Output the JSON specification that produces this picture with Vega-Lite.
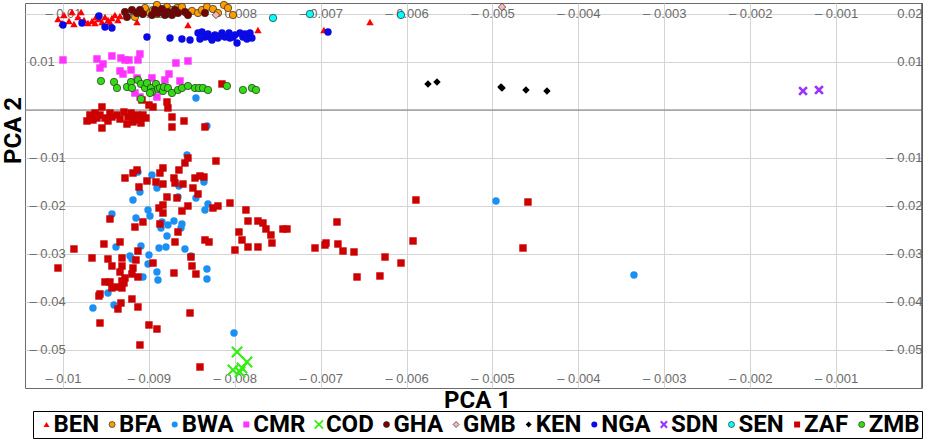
{
  "$schema": "https://vega.github.io/schema/vega-lite/v6.json",
  "width": 897,
  "height": 385,
  "autosize": "none",
  "padding": {"left": 25, "top": 3, "right": 12, "bottom": 52},
  "background": "white",
  "config": {
    "view": {"stroke": "#6b6b6b", "strokeWidth": 1},
    "axis": {
      "domain": false, "ticks": false, "tickSize": 0, "labelFlush": false,
      "labelFont": "Liberation Sans", "labelFontSize": 13, "labelColor": "#6b6b6b",
      "gridColor": "#d4d4d4", "gridWidth": 1,
      "titleFont": "Roboto", "titleFontSize": 24, "titleFontWeight": "bold", "titleColor": "black"
    }
  },
  "data": {"values": [
    {"pop":"BEN","pc1":-0.010058,"pc2":0.01896},{"pop":"BEN","pc1":-0.009988,"pc2":0.01979},{"pop":"BEN","pc1":-0.00993,"pc2":0.01854},
    {"pop":"BEN","pc1":-0.009895,"pc2":0.02042},{"pop":"BEN","pc1":-0.009872,"pc2":0.01792},{"pop":"BEN","pc1":-0.009825,"pc2":0.01938},
    {"pop":"BEN","pc1":-0.00979,"pc2":0.02042},{"pop":"BEN","pc1":-0.009755,"pc2":0.01875},{"pop":"BEN","pc1":-0.009709,"pc2":0.01813},
    {"pop":"BEN","pc1":-0.009662,"pc2":0.01854},{"pop":"BEN","pc1":-0.009627,"pc2":0.01813},{"pop":"BEN","pc1":-0.009581,"pc2":0.01896},
    {"pop":"BEN","pc1":-0.009546,"pc2":0.01833},{"pop":"BEN","pc1":-0.009511,"pc2":0.01938},{"pop":"BEN","pc1":-0.009476,"pc2":0.01875},
    {"pop":"BEN","pc1":-0.00943,"pc2":0.01917},{"pop":"BEN","pc1":-0.009395,"pc2":0.01979},{"pop":"BEN","pc1":-0.00936,"pc2":0.01875},
    {"pop":"BEN","pc1":-0.009336,"pc2":0.01958},{"pop":"BEN","pc1":-0.009138,"pc2":0.01833},{"pop":"BEN","pc1":-0.008545,"pc2":0.01771},
    {"pop":"BEN","pc1":-0.00773,"pc2":0.01667},{"pop":"BEN","pc1":-0.006962,"pc2":0.01667},{"pop":"BEN","pc1":-0.006426,"pc2":0.01833},
    {"pop":"BEN","pc1":-0.010012,"pc2":0.01813},{"pop":"BEN","pc1":-0.009616,"pc2":0.01938},{"pop":"BEN","pc1":-0.009453,"pc2":0.01833},

    {"pop":"BFA","pc1":-0.009162,"pc2":0.01938},{"pop":"BFA","pc1":-0.009138,"pc2":0.02021},{"pop":"BFA","pc1":-0.008987,"pc2":0.02021},
    {"pop":"BFA","pc1":-0.008952,"pc2":0.02083},{"pop":"BFA","pc1":-0.008906,"pc2":0.02},{"pop":"BFA","pc1":-0.008871,"pc2":0.02042},
    {"pop":"BFA","pc1":-0.008906,"pc2":0.02188},{"pop":"BFA","pc1":-0.008789,"pc2":0.02146},{"pop":"BFA","pc1":-0.008731,"pc2":0.02083},
    {"pop":"BFA","pc1":-0.008673,"pc2":0.02125},{"pop":"BFA","pc1":-0.008615,"pc2":0.02146},{"pop":"BFA","pc1":-0.008545,"pc2":0.02021},
    {"pop":"BFA","pc1":-0.008498,"pc2":0.02063},{"pop":"BFA","pc1":-0.008428,"pc2":0.02021},{"pop":"BFA","pc1":-0.008382,"pc2":0.02083},
    {"pop":"BFA","pc1":-0.008324,"pc2":0.02146},{"pop":"BFA","pc1":-0.008254,"pc2":0.02104},{"pop":"BFA","pc1":-0.008196,"pc2":0.02021},
    {"pop":"BFA","pc1":-0.008126,"pc2":0.02188},{"pop":"BFA","pc1":-0.008079,"pc2":0.02125},{"pop":"BFA","pc1":-0.008021,"pc2":0.01979},
    {"pop":"BFA","pc1":-0.009045,"pc2":0.02125},

    {"pop":"BWA","pc1":-0.008452,"pc2":0.0025},{"pop":"BWA","pc1":-0.008324,"pc2":-0.00333},{"pop":"BWA","pc1":-0.008556,"pc2":-0.00938},
    {"pop":"BWA","pc1":-0.008359,"pc2":-0.015},{"pop":"BWA","pc1":-0.009127,"pc2":-0.01292},{"pop":"BWA","pc1":-0.008964,"pc2":-0.01354},
    {"pop":"BWA","pc1":-0.008906,"pc2":-0.01625},{"pop":"BWA","pc1":-0.009104,"pc2":-0.01708},{"pop":"BWA","pc1":-0.009185,"pc2":-0.01875},
    {"pop":"BWA","pc1":-0.00865,"pc2":-0.01583},{"pop":"BWA","pc1":-0.008661,"pc2":-0.01813},{"pop":"BWA","pc1":-0.008452,"pc2":-0.01833},
    {"pop":"BWA","pc1":-0.008312,"pc2":-0.01958},{"pop":"BWA","pc1":-0.008347,"pc2":-0.02083},{"pop":"BWA","pc1":-0.00943,"pc2":-0.02167},
    {"pop":"BWA","pc1":-0.00915,"pc2":-0.0225},{"pop":"BWA","pc1":-0.00901,"pc2":-0.02083},{"pop":"BWA","pc1":-0.008987,"pc2":-0.02208},
    {"pop":"BWA","pc1":-0.008847,"pc2":-0.02333},{"pop":"BWA","pc1":-0.008859,"pc2":-0.02458},{"pop":"BWA","pc1":-0.008778,"pc2":-0.02396},
    {"pop":"BWA","pc1":-0.008708,"pc2":-0.02313},{"pop":"BWA","pc1":-0.008615,"pc2":-0.02375},{"pop":"BWA","pc1":-0.008626,"pc2":-0.02458},
    {"pop":"BWA","pc1":-0.008789,"pc2":-0.02625},{"pop":"BWA","pc1":-0.009383,"pc2":-0.02854},{"pop":"BWA","pc1":-0.009092,"pc2":-0.02833},
    {"pop":"BWA","pc1":-0.008882,"pc2":-0.02875},{"pop":"BWA","pc1":-0.008801,"pc2":-0.02854},{"pop":"BWA","pc1":-0.00858,"pc2":-0.02896},
    {"pop":"BWA","pc1":-0.00851,"pc2":-0.03042},{"pop":"BWA","pc1":-0.00922,"pc2":-0.03042},{"pop":"BWA","pc1":-0.009197,"pc2":-0.03104},
    {"pop":"BWA","pc1":-0.008999,"pc2":-0.03021},{"pop":"BWA","pc1":-0.00901,"pc2":-0.03208},{"pop":"BWA","pc1":-0.009069,"pc2":-0.03479},
    {"pop":"BWA","pc1":-0.008906,"pc2":-0.03375},{"pop":"BWA","pc1":-0.008894,"pc2":-0.03542},{"pop":"BWA","pc1":-0.008324,"pc2":-0.03313},
    {"pop":"BWA","pc1":-0.008324,"pc2":-0.03521},{"pop":"BWA","pc1":-0.009651,"pc2":-0.04125},{"pop":"BWA","pc1":-0.009476,"pc2":-0.03813},
    {"pop":"BWA","pc1":-0.009406,"pc2":-0.04063},{"pop":"BWA","pc1":-0.008009,"pc2":-0.04646},{"pop":"BWA","pc1":-0.004959,"pc2":-0.01896},
    {"pop":"BWA","pc1":-0.003353,"pc2":-0.03438},

    {"pop":"CMR","pc1":-0.01,"pc2":0.01042},{"pop":"CMR","pc1":-0.009604,"pc2":0.01063},{"pop":"CMR","pc1":-0.009534,"pc2":0.00958},
    {"pop":"CMR","pc1":-0.009569,"pc2":0.00875},{"pop":"CMR","pc1":-0.00943,"pc2":0.01125},{"pop":"CMR","pc1":-0.009325,"pc2":0.01083},
    {"pop":"CMR","pc1":-0.009278,"pc2":0.01042},{"pop":"CMR","pc1":-0.009232,"pc2":0.01042},{"pop":"CMR","pc1":-0.009127,"pc2":0.01042},
    {"pop":"CMR","pc1":-0.009104,"pc2":0.01167},{"pop":"CMR","pc1":-0.009336,"pc2":0.00813},{"pop":"CMR","pc1":-0.009301,"pc2":0.0075},
    {"pop":"CMR","pc1":-0.009208,"pc2":0.00833},{"pop":"CMR","pc1":-0.009138,"pc2":0.00667},{"pop":"CMR","pc1":-0.008964,"pc2":0.00667},
    {"pop":"CMR","pc1":-0.008813,"pc2":0.00625},{"pop":"CMR","pc1":-0.008766,"pc2":0.0075},{"pop":"CMR","pc1":-0.008685,"pc2":0.00979},
    {"pop":"CMR","pc1":-0.008545,"pc2":0.01021},{"pop":"CMR","pc1":-0.008638,"pc2":0.00604},{"pop":"CMR","pc1":-0.009162,"pc2":0.00354},
    {"pop":"CMR","pc1":-0.009104,"pc2":0.00271},{"pop":"CMR","pc1":-0.008906,"pc2":0.00271},

    {"pop":"COD","pc1":-0.007974,"pc2":-0.05042},{"pop":"COD","pc1":-0.007858,"pc2":-0.0525},{"pop":"COD","pc1":-0.008021,"pc2":-0.05417},
    {"pop":"COD","pc1":-0.007939,"pc2":-0.05458},{"pop":"COD","pc1":-0.007916,"pc2":-0.05375},

    {"pop":"GHA","pc1":-0.009278,"pc2":0.02042},{"pop":"GHA","pc1":-0.009255,"pc2":0.01938},{"pop":"GHA","pc1":-0.009197,"pc2":0.02083},
    {"pop":"GHA","pc1":-0.009138,"pc2":0.02021},{"pop":"GHA","pc1":-0.009104,"pc2":0.02083},{"pop":"GHA","pc1":-0.009069,"pc2":0.02},
    {"pop":"GHA","pc1":-0.008964,"pc2":0.01979},{"pop":"GHA","pc1":-0.008929,"pc2":0.02083},{"pop":"GHA","pc1":-0.008894,"pc2":0.02021},
    {"pop":"GHA","pc1":-0.008847,"pc2":0.02104},{"pop":"GHA","pc1":-0.008813,"pc2":0.01979},{"pop":"GHA","pc1":-0.008778,"pc2":0.02042},
    {"pop":"GHA","pc1":-0.008731,"pc2":0.01979},{"pop":"GHA","pc1":-0.008696,"pc2":0.02083},{"pop":"GHA","pc1":-0.008661,"pc2":0.02021},
    {"pop":"GHA","pc1":-0.00858,"pc2":0.02042},{"pop":"GHA","pc1":-0.008545,"pc2":0.01979},{"pop":"GHA","pc1":-0.008347,"pc2":0.02021},

    {"pop":"GMB","pc1":-0.008219,"pc2":0.01979},{"pop":"GMB","pc1":-0.004889,"pc2":0.02146},

    {"pop":"KEN","pc1":-0.005751,"pc2":0.00542},{"pop":"KEN","pc1":-0.005646,"pc2":0.00583},{"pop":"KEN","pc1":-0.004901,"pc2":0.00479},
    {"pop":"KEN","pc1":-0.004889,"pc2":0.00458},{"pop":"KEN","pc1":-0.00461,"pc2":0.00417},{"pop":"KEN","pc1":-0.004366,"pc2":0.00396},

    {"pop":"NGA","pc1":-0.01,"pc2":0.01771},{"pop":"NGA","pc1":-0.009779,"pc2":0.01813},{"pop":"NGA","pc1":-0.009581,"pc2":0.01958},
    {"pop":"NGA","pc1":-0.009511,"pc2":0.01729},{"pop":"NGA","pc1":-0.00943,"pc2":0.01708},{"pop":"NGA","pc1":-0.009022,"pc2":0.01521},
    {"pop":"NGA","pc1":-0.008754,"pc2":0.015},{"pop":"NGA","pc1":-0.008615,"pc2":0.01479},{"pop":"NGA","pc1":-0.008521,"pc2":0.01458},
    {"pop":"NGA","pc1":-0.008428,"pc2":0.01604},{"pop":"NGA","pc1":-0.008405,"pc2":0.01479},{"pop":"NGA","pc1":-0.008382,"pc2":0.01625},
    {"pop":"NGA","pc1":-0.008347,"pc2":0.01521},{"pop":"NGA","pc1":-0.008312,"pc2":0.01583},{"pop":"NGA","pc1":-0.008265,"pc2":0.01458},
    {"pop":"NGA","pc1":-0.008231,"pc2":0.01563},{"pop":"NGA","pc1":-0.008196,"pc2":0.015},{"pop":"NGA","pc1":-0.008149,"pc2":0.01604},
    {"pop":"NGA","pc1":-0.008114,"pc2":0.01521},{"pop":"NGA","pc1":-0.008067,"pc2":0.01604},{"pop":"NGA","pc1":-0.008056,"pc2":0.015},
    {"pop":"NGA","pc1":-0.008021,"pc2":0.01521},{"pop":"NGA","pc1":-0.007974,"pc2":0.01396},{"pop":"NGA","pc1":-0.007939,"pc2":0.01604},
    {"pop":"NGA","pc1":-0.007905,"pc2":0.01521},{"pop":"NGA","pc1":-0.007858,"pc2":0.01479},{"pop":"NGA","pc1":-0.007823,"pc2":0.01604},
    {"pop":"NGA","pc1":-0.0078,"pc2":0.015},{"pop":"NGA","pc1":-0.006915,"pc2":0.01625},{"pop":"NGA","pc1":-0.008289,"pc2":0.01521},
    {"pop":"NGA","pc1":-0.008172,"pc2":0.01542},{"pop":"NGA","pc1":-0.007998,"pc2":0.01563},{"pop":"NGA","pc1":-0.007881,"pc2":0.01583},

    {"pop":"SDN","pc1":-0.001385,"pc2":0.00396},{"pop":"SDN","pc1":-0.001199,"pc2":0.00417},

    {"pop":"SEN","pc1":-0.007555,"pc2":0.01917},{"pop":"SEN","pc1":-0.007125,"pc2":0.02},{"pop":"SEN","pc1":-0.006065,"pc2":0.01979},

    {"pop":"ZAF","pc1":-0.00972,"pc2":-0.00229},{"pop":"ZAF","pc1":-0.009686,"pc2":-0.00104},{"pop":"ZAF","pc1":-0.009627,"pc2":-0.00063},
    {"pop":"ZAF","pc1":-0.009604,"pc2":-0.00167},{"pop":"ZAF","pc1":-0.009569,"pc2":-0.00104},{"pop":"ZAF","pc1":-0.009546,"pc2":0.00063},
    {"pop":"ZAF","pc1":-0.009546,"pc2":-0.00375},{"pop":"ZAF","pc1":-0.009511,"pc2":-0.00167},{"pop":"ZAF","pc1":-0.009453,"pc2":-0.00063},
    {"pop":"ZAF","pc1":-0.00943,"pc2":-0.00146},{"pop":"ZAF","pc1":-0.009371,"pc2":-0.00104},{"pop":"ZAF","pc1":-0.009336,"pc2":-0.00188},
    {"pop":"ZAF","pc1":-0.00929,"pc2":-0.00042},{"pop":"ZAF","pc1":-0.009255,"pc2":-0.00292},{"pop":"ZAF","pc1":-0.009243,"pc2":-0.00146},
    {"pop":"ZAF","pc1":-0.009208,"pc2":-0.00063},{"pop":"ZAF","pc1":-0.009185,"pc2":-0.0025},{"pop":"ZAF","pc1":-0.009138,"pc2":-0.00104},
    {"pop":"ZAF","pc1":-0.009115,"pc2":-0.00208},{"pop":"ZAF","pc1":-0.009092,"pc2":-0.00271},{"pop":"ZAF","pc1":-0.009069,"pc2":-0.00104},
    {"pop":"ZAF","pc1":-0.009034,"pc2":-0.00167},{"pop":"ZAF","pc1":-0.00908,"pc2":0.00208},{"pop":"ZAF","pc1":-0.008999,"pc2":0.00104},
    {"pop":"ZAF","pc1":-0.008952,"pc2":0.00063},{"pop":"ZAF","pc1":-0.008789,"pc2":0.00167},{"pop":"ZAF","pc1":-0.008778,"pc2":0.00042},
    {"pop":"ZAF","pc1":-0.008731,"pc2":-0.00146},{"pop":"ZAF","pc1":-0.008731,"pc2":-0.00354},{"pop":"ZAF","pc1":-0.008591,"pc2":-0.00229},
    {"pop":"ZAF","pc1":-0.008347,"pc2":-0.00354},{"pop":"ZAF","pc1":-0.008149,"pc2":0.00542},{"pop":"ZAF","pc1":-0.009651,"pc2":-0.00208},
    {"pop":"ZAF","pc1":-0.009476,"pc2":-0.00229},{"pop":"ZAF","pc1":-0.009162,"pc2":-0.00167},
    {"pop":"ZAF","pc1":-0.008545,"pc2":-0.01},{"pop":"ZAF","pc1":-0.008219,"pc2":-0.01063},{"pop":"ZAF","pc1":-0.009278,"pc2":-0.01417},
    {"pop":"ZAF","pc1":-0.009185,"pc2":-0.01313},{"pop":"ZAF","pc1":-0.009138,"pc2":-0.0125},{"pop":"ZAF","pc1":-0.009115,"pc2":-0.01604},
    {"pop":"ZAF","pc1":-0.009022,"pc2":-0.01479},{"pop":"ZAF","pc1":-0.008917,"pc2":-0.015},{"pop":"ZAF","pc1":-0.008871,"pc2":-0.01313},
    {"pop":"ZAF","pc1":-0.008836,"pc2":-0.01208},{"pop":"ZAF","pc1":-0.008836,"pc2":-0.01542},{"pop":"ZAF","pc1":-0.008708,"pc2":-0.01417},
    {"pop":"ZAF","pc1":-0.008696,"pc2":-0.01521},{"pop":"ZAF","pc1":-0.00865,"pc2":-0.0125},{"pop":"ZAF","pc1":-0.008603,"pc2":-0.01542},
    {"pop":"ZAF","pc1":-0.00858,"pc2":-0.01104},{"pop":"ZAF","pc1":-0.008487,"pc2":-0.01625},{"pop":"ZAF","pc1":-0.008463,"pc2":-0.01417},
    {"pop":"ZAF","pc1":-0.008428,"pc2":-0.0175},{"pop":"ZAF","pc1":-0.008405,"pc2":-0.01375},{"pop":"ZAF","pc1":-0.008359,"pc2":-0.01396},
    {"pop":"ZAF","pc1":-0.009453,"pc2":-0.02271},{"pop":"ZAF","pc1":-0.009162,"pc2":-0.02438},{"pop":"ZAF","pc1":-0.009069,"pc2":-0.02333},
    {"pop":"ZAF","pc1":-0.008882,"pc2":-0.02042},{"pop":"ZAF","pc1":-0.008836,"pc2":-0.01979},{"pop":"ZAF","pc1":-0.008836,"pc2":-0.02146},
    {"pop":"ZAF","pc1":-0.008789,"pc2":-0.01813},{"pop":"ZAF","pc1":-0.008673,"pc2":-0.01833},{"pop":"ZAF","pc1":-0.008615,"pc2":-0.02104},
    {"pop":"ZAF","pc1":-0.008545,"pc2":-0.02},{"pop":"ZAF","pc1":-0.008254,"pc2":-0.02042},{"pop":"ZAF","pc1":-0.008196,"pc2":-0.02},
    {"pop":"ZAF","pc1":-0.008056,"pc2":-0.01938},{"pop":"ZAF","pc1":-0.00787,"pc2":-0.02083},{"pop":"ZAF","pc1":-0.007846,"pc2":-0.02313},
    {"pop":"ZAF","pc1":-0.007951,"pc2":-0.02542},{"pop":"ZAF","pc1":-0.007916,"pc2":-0.02708},{"pop":"ZAF","pc1":-0.007846,"pc2":-0.02854},
    {"pop":"ZAF","pc1":-0.00773,"pc2":-0.02854},{"pop":"ZAF","pc1":-0.00773,"pc2":-0.02313},{"pop":"ZAF","pc1":-0.007672,"pc2":-0.02354},
    {"pop":"ZAF","pc1":-0.007637,"pc2":-0.02479},{"pop":"ZAF","pc1":-0.007579,"pc2":-0.02604},{"pop":"ZAF","pc1":-0.007567,"pc2":-0.02771},
    {"pop":"ZAF","pc1":-0.007439,"pc2":-0.02479},{"pop":"ZAF","pc1":-0.007392,"pc2":-0.02479},{"pop":"ZAF","pc1":-0.007998,"pc2":-0.02917},
    {"pop":"ZAF","pc1":-0.007066,"pc2":-0.02875},{"pop":"ZAF","pc1":-0.00695,"pc2":-0.02813},{"pop":"ZAF","pc1":-0.006938,"pc2":-0.02771},
    {"pop":"ZAF","pc1":-0.00681,"pc2":-0.02333},{"pop":"ZAF","pc1":-0.006799,"pc2":-0.02792},{"pop":"ZAF","pc1":-0.00674,"pc2":-0.02938},
    {"pop":"ZAF","pc1":-0.006612,"pc2":-0.02958},{"pop":"ZAF","pc1":-0.006251,"pc2":-0.03063},{"pop":"ZAF","pc1":-0.006065,"pc2":-0.03188},
    {"pop":"ZAF","pc1":-0.006577,"pc2":-0.03479},{"pop":"ZAF","pc1":-0.00631,"pc2":-0.03458},{"pop":"ZAF","pc1":-0.005891,"pc2":-0.01875},
    {"pop":"ZAF","pc1":-0.005925,"pc2":-0.02729},{"pop":"ZAF","pc1":-0.004587,"pc2":-0.01917},{"pop":"ZAF","pc1":-0.004645,"pc2":-0.02875},
    {"pop":"ZAF","pc1":-0.008347,"pc2":-0.02708},{"pop":"ZAF","pc1":-0.0083,"pc2":-0.0275},{"pop":"ZAF","pc1":-0.00851,"pc2":-0.03063},
    {"pop":"ZAF","pc1":-0.008498,"pc2":-0.0325},{"pop":"ZAF","pc1":-0.008452,"pc2":-0.03417},{"pop":"ZAF","pc1":-0.008661,"pc2":-0.02542},
    {"pop":"ZAF","pc1":-0.008696,"pc2":-0.0275},{"pop":"ZAF","pc1":-0.008871,"pc2":-0.02375},{"pop":"ZAF","pc1":-0.009872,"pc2":-0.02896},
    {"pop":"ZAF","pc1":-0.009662,"pc2":-0.03083},{"pop":"ZAF","pc1":-0.009523,"pc2":-0.02792},{"pop":"ZAF","pc1":-0.009476,"pc2":-0.03104},
    {"pop":"ZAF","pc1":-0.009336,"pc2":-0.0275},{"pop":"ZAF","pc1":-0.00943,"pc2":-0.0325},{"pop":"ZAF","pc1":-0.009313,"pc2":-0.03083},
    {"pop":"ZAF","pc1":-0.009313,"pc2":-0.0325},{"pop":"ZAF","pc1":-0.00915,"pc2":-0.03125},{"pop":"ZAF","pc1":-0.009127,"pc2":-0.02938},
    {"pop":"ZAF","pc1":-0.009185,"pc2":-0.03292},{"pop":"ZAF","pc1":-0.008952,"pc2":-0.03188},{"pop":"ZAF","pc1":-0.008708,"pc2":-0.03396},
    {"pop":"ZAF","pc1":-0.010058,"pc2":-0.03292},{"pop":"ZAF","pc1":-0.009336,"pc2":-0.03375},{"pop":"ZAF","pc1":-0.009278,"pc2":-0.035},
    {"pop":"ZAF","pc1":-0.009197,"pc2":-0.03417},{"pop":"ZAF","pc1":-0.009127,"pc2":-0.03479},{"pop":"ZAF","pc1":-0.009511,"pc2":-0.03583},
    {"pop":"ZAF","pc1":-0.009453,"pc2":-0.03583},{"pop":"ZAF","pc1":-0.00943,"pc2":-0.03708},{"pop":"ZAF","pc1":-0.009371,"pc2":-0.03688},
    {"pop":"ZAF","pc1":-0.009313,"pc2":-0.03563},{"pop":"ZAF","pc1":-0.00929,"pc2":-0.03604},{"pop":"ZAF","pc1":-0.009313,"pc2":-0.03708},
    {"pop":"ZAF","pc1":-0.009569,"pc2":-0.03833},{"pop":"ZAF","pc1":-0.009581,"pc2":-0.03875},{"pop":"ZAF","pc1":-0.009197,"pc2":-0.03938},
    {"pop":"ZAF","pc1":-0.009325,"pc2":-0.04021},{"pop":"ZAF","pc1":-0.00936,"pc2":-0.04146},{"pop":"ZAF","pc1":-0.009127,"pc2":-0.04104},
    {"pop":"ZAF","pc1":-0.009569,"pc2":-0.04438},{"pop":"ZAF","pc1":-0.008999,"pc2":-0.04479},{"pop":"ZAF","pc1":-0.008906,"pc2":-0.04563},
    {"pop":"ZAF","pc1":-0.009104,"pc2":-0.04896},{"pop":"ZAF","pc1":-0.008521,"pc2":-0.04229},{"pop":"ZAF","pc1":-0.008405,"pc2":-0.05354},

    {"pop":"ZMB","pc1":-0.009558,"pc2":0.00604},{"pop":"ZMB","pc1":-0.009406,"pc2":0.00583},{"pop":"ZMB","pc1":-0.009371,"pc2":0.00458},
    {"pop":"ZMB","pc1":-0.009255,"pc2":0.00479},{"pop":"ZMB","pc1":-0.009208,"pc2":0.00583},{"pop":"ZMB","pc1":-0.009197,"pc2":0.00458},
    {"pop":"ZMB","pc1":-0.009127,"pc2":0.00625},{"pop":"ZMB","pc1":-0.009092,"pc2":0.00542},{"pop":"ZMB","pc1":-0.009045,"pc2":0.00458},
    {"pop":"ZMB","pc1":-0.009022,"pc2":0.00563},{"pop":"ZMB","pc1":-0.008975,"pc2":0.00458},{"pop":"ZMB","pc1":-0.008964,"pc2":0.00375},
    {"pop":"ZMB","pc1":-0.008917,"pc2":0.00542},{"pop":"ZMB","pc1":-0.008894,"pc2":0.00438},{"pop":"ZMB","pc1":-0.008871,"pc2":0.00458},
    {"pop":"ZMB","pc1":-0.008836,"pc2":0.00396},{"pop":"ZMB","pc1":-0.008824,"pc2":0.00479},{"pop":"ZMB","pc1":-0.008778,"pc2":0.00458},
    {"pop":"ZMB","pc1":-0.008731,"pc2":0.00354},{"pop":"ZMB","pc1":-0.008661,"pc2":0.00417},{"pop":"ZMB","pc1":-0.008615,"pc2":0.00458},
    {"pop":"ZMB","pc1":-0.008545,"pc2":0.005},{"pop":"ZMB","pc1":-0.008463,"pc2":0.00458},{"pop":"ZMB","pc1":-0.008417,"pc2":0.00458},
    {"pop":"ZMB","pc1":-0.00837,"pc2":0.00458},{"pop":"ZMB","pc1":-0.008312,"pc2":0.00417},{"pop":"ZMB","pc1":-0.008091,"pc2":0.005},
    {"pop":"ZMB","pc1":-0.007905,"pc2":0.00417},{"pop":"ZMB","pc1":-0.0078,"pc2":0.00458},{"pop":"ZMB","pc1":-0.007753,"pc2":0.00417},
    {"pop":"ZMB","pc1":-0.009092,"pc2":0.00229},{"pop":"ZMB","pc1":-0.008987,"pc2":0.00354}
  ]},
  "layer": [
    {
      "data": {"values": [{}]},
      "mark": {"type": "rule", "color": "#7a7a7a", "strokeWidth": 1.2},
      "encoding": {
        "y": {
          "datum": 0, "type": "quantitative",
          "scale": {"domain": [-0.05792, 0.02229], "nice": false, "zero": false},
          "axis": {
            "orient": "right", "grid": false,
            "values": [-0.05, -0.04, -0.03, -0.02, -0.01, 0.01, 0.02],
            "labelAlign": "right", "labelPadding": 0, "labelBaseline": "middle",
            "labelExpr": "(datum.value < 0 ? '– ' : '') + format(abs(datum.value), '.2~f')",
            "title": null
          }
        }
      }
    },
    {
      "data": {"values": [{}]},
      "mark": {"type": "rule", "color": "#555555", "strokeWidth": 1.5},
      "encoding": {
        "x": {
          "datum": 0, "type": "quantitative",
          "scale": {"domain": [-0.010442, 0], "nice": false, "zero": false},
          "axis": {
            "orient": "top", "grid": false,
            "values": [-0.01, -0.009, -0.008, -0.007, -0.006, -0.005, -0.004, -0.003, -0.002, -0.001],
            "labelPadding": -10, "labelBaseline": "middle",
            "labelExpr": "(datum.value < 0 ? '– ' : '') + format(abs(datum.value), '.3~f')",
            "title": null
          }
        }
      }
    },
    {
      "mark": {"type": "point", "filled": true, "opacity": 1, "strokeWidth": 0.7, "size": 55},
      "encoding": {
        "x": {
          "field": "pc1", "type": "quantitative",
          "scale": {"domain": [-0.010442, 0], "nice": false, "zero": false},
          "axis": {
            "orient": "bottom", "grid": true,
            "values": [-0.01, -0.009, -0.008, -0.007, -0.006, -0.005, -0.004, -0.003, -0.002, -0.001],
            "labelPadding": -10, "labelBaseline": "middle",
            "labelExpr": "(datum.value < 0 ? '– ' : '') + format(abs(datum.value), '.3~f')",
            "title": "PCA 1", "titleX": 452, "titleY": 19, "titleBaseline": "alphabetic"
          }
        },
        "y": {
          "field": "pc2", "type": "quantitative",
          "scale": {"domain": [-0.05792, 0.02229], "nice": false, "zero": false},
          "axis": {
            "orient": "left", "grid": true,
            "values": [-0.05, -0.04, -0.03, -0.02, -0.01, 0, 0.01, 0.02],
            "labelAlign": "left", "labelPadding": -4, "labelBaseline": "middle",
            "labelExpr": "(datum.value == 0 || datum.value > 0.015) ? '' : (datum.value < 0 ? '– ' : '') + format(abs(datum.value), '.2~f')",
            "title": "PCA 2", "titleAngle": 270, "titleX": -12, "titleY": 127,
            "titleBaseline": "middle", "titleAlign": "center"
          }
        },
        "color": {
          "field": "pop", "type": "nominal",
          "scale": {
            "domain": ["BEN", "BFA", "BWA", "CMR", "COD", "GHA", "GMB", "KEN", "NGA", "SDN", "SEN", "ZAF", "ZMB"],
            "range": ["#ff0000", "#ff9c00", "#1a90f5", "#ff33ff", "#33ee11", "#7a0000", "#f7b8b8", "#000000", "#0a0ae6", "#9933ff", "#00ffff", "#cc0000", "#33dd11"]
          },
          "legend": {
            "title": null, "orient": "none", "legendX": 8, "legendY": 408,
            "direction": "horizontal", "columns": 13, "gridAlign": "none",
            "labelFont": "Roboto", "labelFontWeight": "bold", "labelFontSize": 24, "labelColor": "black",
            "labelLimit": 200, "labelOffset": -5, "columnPadding": 0.6,
            "symbolSize": 36, "symbolStrokeWidth": 0.7,
            "padding": 1.5, "strokeColor": "black", "fillColor": "white"
          }
        },
        "shape": {
          "field": "pop", "type": "nominal",
          "scale": {
            "domain": ["BEN", "BFA", "BWA", "CMR", "COD", "GHA", "GMB", "KEN", "NGA", "SDN", "SEN", "ZAF", "ZMB"],
            "range": ["triangle-up", "circle", "circle", "square",
              "M-1.6,-1.2L-1.2,-1.6L0,-0.4L1.2,-1.6L1.6,-1.2L0.4,0L1.6,1.2L1.2,1.6L0,0.4L-1.2,1.6L-1.6,1.2L-0.4,0Z",
              "circle", "diamond", "diamond", "circle",
              "M-1.3,-0.8L-0.8,-1.3L0,-0.5L0.8,-1.3L1.3,-0.8L0.5,0L1.3,0.8L0.8,1.3L0,0.5L-0.8,1.3L-1.3,0.8L-0.5,0Z",
              "circle", "square", "circle"]
          }
        },
        "stroke": {
          "field": "pop", "type": "nominal",
          "scale": {
            "domain": ["BEN", "BFA", "BWA", "CMR", "COD", "GHA", "GMB", "KEN", "NGA", "SDN", "SEN", "ZAF", "ZMB"],
            "range": ["transparent", "#2a2a2a", "transparent", "transparent", "transparent", "#2a2a2a", "#2a2a2a", "transparent", "transparent", "transparent", "#2a2a2a", "transparent", "#2a2a2a"]
          }
        }
      }
    }
  ],
  "resolve": {"axis": {"x": "independent", "y": "independent"}}
}
